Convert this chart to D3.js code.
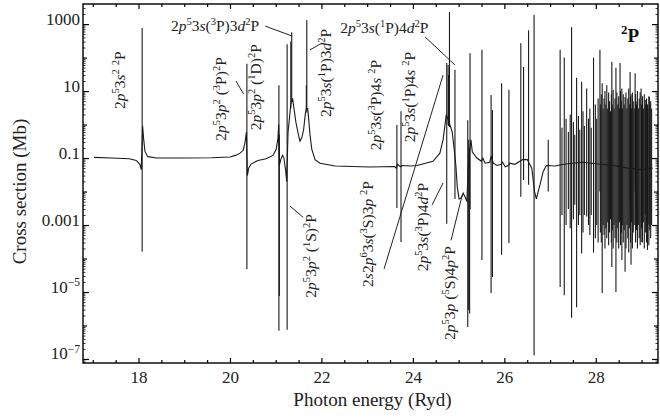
<!DOCTYPE html>
<html>
<head>
<meta charset="utf-8">
<script src="https://d3js.org/d3.v7.min.js"></script>
<style>
  body { margin: 0; background: #fff; }
  svg { display: block; }
</style>
</head>
<body>
<svg id="chart" width="660" height="420"></svg>
<script>
// axis ticks
const xMajor = [18, 20, 22, 24, 26, 28];
const yLabelled = [1e3, 1e1, 1e-1, 1e-3, 1e-5, 1e-7];
const yTickLabels = ['1000', '10', '0.1', '0.001', '10^{\u22125}', '10^{\u22127}'];

// smooth part of the cross section: [photon energy (Ryd), sigma (Mb)]
const background = [
  [17.03, 0.105], [17.40, 0.1], [17.80, 0.095], [17.95, 0.085], [18.03, 0.065], [18.06, 0.045],
  [18.09, 0.9], [18.11, 0.4], [18.14, 0.16], [18.20, 0.11], [18.40, 0.1], [19.00, 0.1],
  [19.60, 0.102], [20.00, 0.108], [20.12, 0.12], [20.22, 0.14], [20.29, 0.17], [20.33, 0.3], [20.36, 0.6],
  [20.38, 0.03], [20.41, 0.05], [20.46, 0.066], [20.61, 0.085], [20.79, 0.095], [20.94, 0.12],
  [21.01, 0.18], [21.05, 0.4], [21.065, 1.0],
  [21.08, 0.06], [21.11, 0.09], [21.15, 0.12], [21.18, 0.1], [21.22, 0.04], [21.24, 0.02],
  [21.27, 0.6], [21.30, 1.5], [21.33, 4], [21.37, 6], [21.40, 3], [21.44, 1.2], [21.49, 0.55],
  [21.53, 0.32], [21.57, 0.4], [21.61, 0.7], [21.65, 2.2], [21.67, 3],
  [21.70, 3], [21.72, 1.5], [21.75, 0.5], [21.79, 0.18], [21.86, 0.09], [21.97, 0.07],
  [22.30, 0.058], [23.06, 0.054], [23.60, 0.056], [23.64, 0.05], [23.66, 0.065], [23.73, 0.055],
  [23.76, 0.06], [23.94, 0.058], [24.09, 0.06], [24.44, 0.08], [24.59, 0.14], [24.66, 0.35],
  [24.71, 1.2], [24.73, 2],
  [24.82, 0.9], [24.86, 0.6], [24.90, 0.2], [24.94, 0.06], [24.97, 0.014], [25.01, 0.006],
  [25.06, 0.0065], [25.10, 0.009], [25.14, 0.007], [25.18, 0.005],
  [25.22, 0.1], [25.27, 0.35], [25.30, 0.15], [25.40, 0.1], [25.50, 0.08], [25.53, 0.1],
  [25.58, 0.07], [25.68, 0.075], [25.71, 0.11], [25.76, 0.07], [25.84, 0.06], [25.93, 0.065],
  [25.96, 0.075], [26.02, 0.055], [26.09, 0.06], [26.12, 0.07], [26.23, 0.065], [26.34, 0.08],
  [26.40, 0.09], [26.50, 0.09], [26.60, 0.05], [26.66, 0.01], [26.70, 0.006], [26.74, 0.01],
  [26.78, 0.016], [26.85, 0.04], [26.92, 0.06], [27.11, 0.058], [27.30, 0.065], [27.50, 0.07],
  [27.70, 0.075], [27.90, 0.07], [28.10, 0.065], [28.40, 0.06], [28.70, 0.05], [29.00, 0.045],
  [29.24, 0.05]
];

// isolated resonances: [energy (Ryd), peak sigma, minimum sigma] (Mb)
const resonances = [
  [18.08, 760, 1.6e-4],
  [20.37, 65, 4.9e-5],
  [21.07, 15, 7e-7], [21.08, 0.5, 7.6e-6],
  [21.25, 250, 7.4e-7],
  [21.33, 300, 3], [21.35, 575, 5],
  [21.67, 15, 2.7], [21.68, 1300, 2.3],
  [23.65, 0.97, 3.2e-3], [23.74, 2.5, 3.1e-4],
  [24.74, 69, 1.1e-3], [24.77, 60, 1], [24.78, 30, 0.9], [24.80, 2300, 0.85],
  [24.92, 43, 6e-3],
  [25.20, 1.35, 9e-7], [25.22, 0.35, 2.9e-6], [25.24, 0.2, 2.3e-6], [25.25, 135, 3e-3],
  [25.51, 170, 9e-5],
  [25.71, 7.6, 9.3e-6], [25.74, 2.7, 2.8e-5],
  [25.94, 17, 1.3e-4], [26.10, 11, 2.9e-4],
  [26.36, 270, 7e-3], [26.42, 52, 0.022], [26.53, 660, 0.016],
  [26.65, 1900, 1.3e-7],
  [26.96, 0.35, 0.01],
  [27.22, 170, 1.4e-5], [27.31, 100, 8e-6], [27.47, 810, 1.7e-6],
  [27.58, 25, 3.5e-6], [27.69, 19, 1.4e-4], [27.80, 12, 1.8e-3],
  [27.95, 100, 1.5e-4], [28.09, 170, 0.01], [28.14, 17, 9.3e-6],
  [28.24, 15, 4e-4], [28.35, 74, 5.6e-5], [28.44, 50, 1e-5],
  [28.53, 69, 2e-3], [28.57, 12, 9e-5], [28.64, 6.6, 4e-5],
  [28.75, 37, 5e-3], [28.77, 8, 6.5e-5], [28.86, 34, 1e-2], [28.88, 5, 3.5e-3],
  [28.99, 12, 3.1e-4], [29.08, 5.4, 2e-3], [29.13, 4, 1.8e-4], [29.17, 6.6, 1.1e-3]
];

// closely packed Rydberg resonances below the thresholds: [energy, peak, minimum]
const denseSeries = [
  [27.26, 0.8, 2e-3], [27.35, 1.5, 1e-3], [27.40, 0.6, 3e-3], [27.44, 2, 8e-4],
  [27.51, 1.2, 1.5e-3], [27.54, 0.5, 4e-3], [27.62, 1.8, 1e-3], [27.65, 0.7, 2e-3],
  [27.72, 2.5, 6e-4], [27.75, 0.9, 2e-3], [27.84, 1.5, 1e-3], [27.87, 3, 5e-4],
  [27.90, 0.8, 2e-3], [27.99, 4, 4e-4], [28.02, 1.5, 1e-3], [28.05, 6, 3e-4],
  [28.10, 4, 6e-4], [28.12, 8, 3e-4], [28.16, 3, 1e-3], [28.18, 6, 5e-4],
  [28.20, 10, 2e-4], [28.22, 4, 8e-4], [28.26, 3, 1.2e-3], [28.28, 9, 2.5e-4],
  [28.30, 5, 6e-4], [28.32, 2.5, 1.5e-3], [28.34, 8, 3e-4], [28.36, 4, 7e-4],
  [28.38, 11, 2e-4], [28.40, 3, 1e-3], [28.42, 6, 4e-4], [28.46, 9, 3e-4],
  [28.48, 4, 8e-4], [28.50, 7, 2e-4], [28.52, 3, 1.2e-3], [28.54, 10, 2.5e-4],
  [28.56, 5, 6e-4], [28.58, 3, 1e-3], [28.60, 8, 3e-4], [28.62, 4, 7e-4],
  [28.66, 9, 2e-4], [28.68, 3, 1e-3], [28.70, 6, 4e-4], [28.72, 12, 1.5e-4],
  [28.74, 4, 8e-4], [28.76, 7, 3e-4], [28.78, 3, 1.2e-3], [28.80, 9, 2e-4],
  [28.82, 5, 6e-4], [28.84, 3, 1e-3], [28.87, 8, 3e-4], [28.89, 4, 7e-4],
  [28.91, 10, 2e-4], [28.93, 3, 1e-3], [28.95, 6, 4e-4], [28.97, 9, 2.5e-4],
  [29.00, 4, 8e-4], [29.02, 7, 3e-4], [29.04, 3, 1.2e-3], [29.06, 8, 2e-4],
  [29.09, 4, 6e-4], [29.11, 6, 3e-4], [29.14, 3, 1e-3], [29.16, 7, 2.5e-4],
  [29.18, 4, 7e-4], [29.20, 5, 4e-4], [29.22, 3, 1e-3]
];

// state labels (rotated), anchored at [energy, sigma]
const verticalLabels = [
  ['2*p*^53*s*^2 ^2P', 17.705, 21],
  ['2*p*^53*p*^2 (^3P)^2P', 19.91, 5.8],
  ['2*p*^53*p*^2 (^1D)^2P', 20.68, 13],
  ['2*p*^53*s*(^1P)3*d*^2P', 22.21, 35],
  ['2*p*^53*s*(^3P)4*s* ^2P', 23.30, 3.8],
  ['2*p*^53*s*(^1P)4*s* ^2P', 24.05, 6.6],
  ['2*p*^53*p*^2 (^1S)^2P', 21.88, 1.2e-4],
  ['2*s*2*p*^63*s*(^3S)3*p* ^2P', 23.13, 5.4e-4],
  ['2*p*^53*s*(^3P)4*d*^2P', 24.33, 8.7e-4],
  ['2*p*^53*p* (^5S)4*p*^2P', 24.92, 9.3e-6]
];
const horizontalLabels = [
  ['2*p*^53*s*(^3P)3*d*^2P', 18.71, 620],
  ['2*p*^53*s*(^1P)4*d*^2P', 22.41, 540]
];
// leader lines: [E1, sigma1, E2, sigma2]
const leaders = [
  [20.13, 20, 20.30, 8.1],
  [20.77, 870, 21.36, 440],
  [21.75, 170, 22.01, 270],
  [24.27, 410, 24.92, 60],
  [21.31, 3.7e-3, 21.60, 1.7e-3],
  [23.37, 4.9e-5, 24.66, 30],
  [24.42, 4e-3, 24.66, 0.018],
  [24.835, 3.5e-4, 25.08, 8e-3]
];

const FONT = '"Liberation Serif", "Times New Roman", Times, serif';
const svg = d3.select('#chart').attr('font-family', FONT);
const plotLeft = 83, plotRight = 658, plotTop = 4, plotBottom = 363;

const x = d3.scaleLinear().domain([16.786, 29.36]).range([plotLeft, plotRight]);
const y = d3.scaleLog().domain([Math.pow(10, -7.12), Math.pow(10, 3.6)]).range([plotBottom, plotTop]);

// text with italics (*p*) and superscripts (^5 or ^{..})
function richText(sel, markup, size) {
  const re = /\*([^*]+)\*|\^\{([^}]+)\}|\^(.)|([^*^]+)/g;
  const shift = size * 0.4;
  let m, raised = false;
  while ((m = re.exec(markup))) {
    const t = sel.append('tspan');
    const sup = m[2] !== undefined ? m[2] : m[3];
    if (sup !== undefined) {
      t.text(sup).attr('font-size', size * 0.68).attr('dy', raised ? 0 : -shift);
      raised = true;
    } else {
      t.text(m[1] !== undefined ? m[1] : m[4])
        .attr('font-style', m[1] !== undefined ? 'italic' : null)
        .attr('dy', raised ? shift : 0);
      raised = false;
    }
  }
}

svg.append('clipPath').attr('id', 'plot-area')
  .append('rect').attr('x', plotLeft).attr('y', plotTop)
  .attr('width', plotRight - plotLeft).attr('height', plotBottom - plotTop);

const plot = svg.append('g').attr('clip-path', 'url(#plot-area)');

plot.append('path')
  .datum(background)
  .attr('fill', 'none')
  .attr('stroke', '#1a1a1a')
  .attr('stroke-width', 1.1)
  .attr('d', d3.line().x(d => x(d[0])).y(d => y(d[1])));

plot.selectAll('line.res')
  .data(resonances.concat(denseSeries))
  .join('line')
    .attr('class', 'res')
    .attr('x1', d => x(d[0]))
    .attr('x2', d => x(d[0]))
    .attr('y1', d => y(d[1]))
    .attr('y2', d => y(d[2]))
    .attr('stroke', '#1a1a1a')
    .attr('stroke-width', 1.1);

// x axes (ticks inward)
const xMinor = d3.range(17, 29.5, 0.5).filter(v => !xMajor.includes(v));
const styleAxis = g => {
  g.attr('font-family', FONT).attr('font-size', 17);
  g.select('.domain').remove();
  g.selectAll('line').attr('stroke', '#000').attr('stroke-width', 1.2);
  g.selectAll('text').attr('fill', '#222');
};

svg.append('g')
  .attr('transform', `translate(0,${plotBottom})`)
  .call(d3.axisBottom(x).tickValues(xMajor).tickSize(-5).tickPadding(8).tickFormat(d3.format('d')))
  .call(styleAxis);
svg.append('g')
  .attr('transform', `translate(0,${plotBottom})`)
  .call(d3.axisBottom(x).tickValues(xMinor).tickSize(-3).tickFormat(''))
  .call(styleAxis);
svg.append('g')
  .attr('transform', `translate(0,${plotTop})`)
  .call(d3.axisTop(x).tickValues(xMajor).tickSize(-5).tickFormat(''))
  .call(styleAxis);
svg.append('g')
  .attr('transform', `translate(0,${plotTop})`)
  .call(d3.axisTop(x).tickValues(xMinor).tickSize(-3).tickFormat(''))
  .call(styleAxis);

// y axes
const yOdd = [1e2, 1, 1e-2, 1e-4, 1e-6];
const yMinor = [];
for (let k = -8; k <= 3; k++) {
  for (let j = 2; j <= 9; j++) {
    const v = j * Math.pow(10, k);
    if (v > y.domain()[0] && v < y.domain()[1]) yMinor.push(v);
  }
}

const yMajorG = svg.append('g')
  .attr('transform', `translate(${plotLeft},0)`)
  .call(d3.axisLeft(y).tickValues(yLabelled).tickSize(-6).tickPadding(3))
  .call(styleAxis);
yMajorG.selectAll('.tick text').each(function (d, i) {
  const t = d3.select(this);
  t.text(null);
  richText(t, yTickLabels[i], 17);
});

[[d3.axisLeft, plotLeft, true], [d3.axisRight, plotRight, false]].forEach(([axisFn, pos, labelled]) => {
  if (!labelled) {
    svg.append('g').attr('transform', `translate(${pos},0)`)
      .call(axisFn(y).tickValues(yLabelled).tickSize(-6).tickFormat(''))
      .call(styleAxis);
  }
  svg.append('g').attr('transform', `translate(${pos},0)`)
    .call(axisFn(y).tickValues(yOdd).tickSize(-4).tickFormat(''))
    .call(styleAxis);
  svg.append('g').attr('transform', `translate(${pos},0)`)
    .call(axisFn(y).tickValues(yMinor).tickSize(-2.5).tickFormat(''))
    .call(styleAxis)
    .selectAll('line').attr('stroke-width', 0.8);
});

// frame
svg.append('rect')
  .attr('x', plotLeft).attr('y', plotTop)
  .attr('width', plotRight - plotLeft).attr('height', plotBottom - plotTop)
  .attr('fill', 'none').attr('stroke', '#000').attr('stroke-width', 1.4);

// axis titles
svg.append('text')
  .attr('x', (plotLeft + plotRight) / 2 + 2).attr('y', 406)
  .attr('text-anchor', 'middle').attr('font-size', 19).attr('fill', '#222')
  .text('Photon energy (Ryd)');
svg.append('text')
  .attr('transform', `translate(26,${(plotTop + plotBottom) / 2 + 8}) rotate(-90)`)
  .attr('text-anchor', 'middle').attr('font-size', 19).attr('fill', '#222')
  .text('Cross section (Mb)');

// annotations
const labelSize = 15.5;
verticalLabels.forEach(([txt, e, s]) => {
  const t = svg.append('text')
    .attr('transform', `translate(${x(e)},${y(s)}) rotate(-90)`)
    .attr('text-anchor', 'middle').attr('font-size', labelSize).attr('fill', '#222');
  richText(t, txt, labelSize);
});
horizontalLabels.forEach(([txt, e, s]) => {
  const t = svg.append('text')
    .attr('x', x(e)).attr('y', y(s))
    .attr('font-size', labelSize).attr('fill', '#222');
  richText(t, txt, labelSize);
});
svg.selectAll('line.leader')
  .data(leaders)
  .join('line')
    .attr('class', 'leader')
    .attr('x1', d => x(d[0])).attr('y1', d => y(d[1]))
    .attr('x2', d => x(d[2])).attr('y2', d => y(d[3]))
    .attr('stroke', '#222').attr('stroke-width', 1);

const term = svg.append('text')
  .attr('x', x(28.55)).attr('y', y(300))
  .attr('font-size', 19).attr('font-weight', 'bold').attr('fill', '#111');
richText(term, '^2P', 19);
</script>
</body>
</html>
